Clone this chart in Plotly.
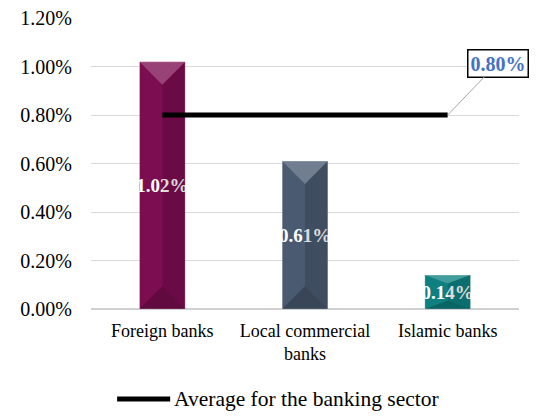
import plotly.graph_objects as go

# Bank groups and their ratios (percent)
categories = ["Foreign banks", "Local commercial<br>banks", "Islamic banks"]
ratios = [1.02, 0.61, 0.14]
bar_colors = ["#7d0d51", "#4a5a71", "#0f8080"]
sector_average = 0.80
average_label = "Average for the banking sector"
y_ticks = [0.0, 0.2, 0.4, 0.6, 0.8, 1.0, 1.2]

serif = "Liberation Serif, Times New Roman, serif"
bar_width = 0.32

fig = go.Figure()

fig.add_trace(go.Bar(
    x=categories,
    y=ratios,
    width=bar_width,
    marker=dict(color=bar_colors, line=dict(color="rgba(255,255,255,0.35)", width=0.8)),
    text=[f"{v:.2f}%" for v in ratios],
    textposition="inside",
    insidetextanchor="middle",
    textangle=0,
    constraintext="none",
    textfont=dict(family=serif, size=19, color="white", weight="bold"),
    showlegend=False,
    hoverinfo="skip",
))

# Bevelled look on each bar: light top facet, dark bottom facet, shaded right side
half = bar_width / 2
for i, v in enumerate(ratios):
    d = min(0.095, v / 4)
    fig.add_shape(type="path", xref="x", yref="y", layer="above", line_width=0,
                  fillcolor="rgba(255,255,255,0.22)",
                  path=f"M{i-half},{v} L{i+half},{v} L{i},{v-d} Z")
    fig.add_shape(type="path", xref="x", yref="y", layer="above", line_width=0,
                  fillcolor="rgba(0,0,0,0.22)",
                  path=f"M{i-half},0 L{i+half},0 L{i},{d} Z")
    fig.add_shape(type="path", xref="x", yref="y", layer="above", line_width=0,
                  fillcolor="rgba(0,0,0,0.14)",
                  path=f"M{i},{d} L{i+half},0 L{i+half},{v} L{i},{v-d} Z")

# Sector average across the three groups
fig.add_trace(go.Scatter(
    x=[categories[0], categories[-1]],
    y=[sector_average, sector_average],
    mode="lines",
    line=dict(color="black", width=5),
    name=average_label,
    showlegend=False,
    hoverinfo="skip",
))

fig.add_annotation(
    x=len(categories) - 1, y=sector_average,
    xref="x", yref="y",
    text=f"<b>{sector_average:.2f}%</b>",
    font=dict(family=serif, size=20, color="#4472c4"),
    showarrow=True, arrowhead=0, arrowwidth=1, arrowcolor="#a6a6a6",
    ax=50, ay=-52,
    bordercolor="black", borderwidth=1.5, borderpad=2,
    bgcolor="white",
)

# Legend entry for the average line, drawn below the axis
fig.add_shape(type="line", xref="paper", yref="paper",
              x0=0.061, x1=0.185, y0=-0.309, y1=-0.309,
              line=dict(color="black", width=5))
fig.add_annotation(x=0.189, y=-0.309, xref="paper", yref="paper",
                   text=average_label, showarrow=False,
                   xanchor="left", yanchor="middle",
                   font=dict(family=serif, size=21.5, color="black"))

fig.update_layout(
    width=541, height=417,
    margin=dict(l=91, r=22, t=18, b=108),
    paper_bgcolor="white",
    plot_bgcolor="white",
    font=dict(family=serif, size=18, color="black"),
    showlegend=False,
    xaxis=dict(
        type="category",
        range=[-0.5, 2.5],
        automargin=False,
        showgrid=False,
        showline=False,
        ticks="",
        ticklabelstandoff=9,
        tickfont=dict(family=serif, size=18),
    ),
    yaxis=dict(
        range=[0, 1.2],
        automargin=False,
        tickvals=y_ticks,
        ticktext=[f"{v:.2f}%" for v in y_ticks],
        tickfont=dict(family=serif, size=20),
        showgrid=True,
        gridcolor="#d9d9d9",
        gridwidth=1,
        zeroline=True,
        zerolinecolor="#d0d0d0",
        zerolinewidth=1.5,
        ticks="",
        ticklabelstandoff=18,
    ),
)

fig.write_html("out.html")
